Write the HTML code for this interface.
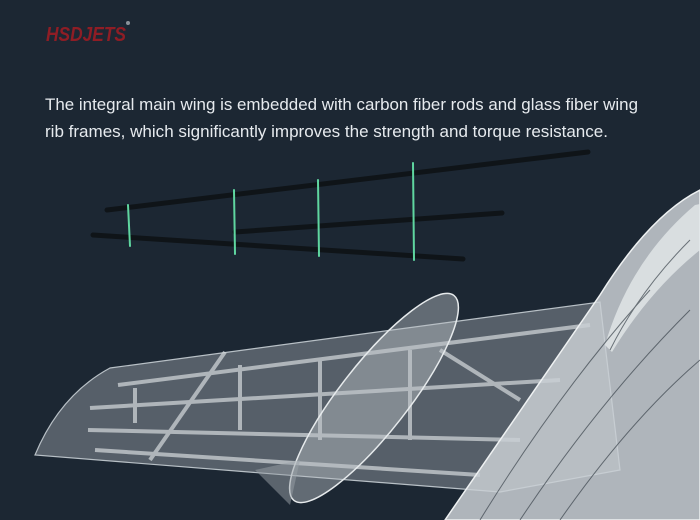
<!DOCTYPE html>
<html><head><meta charset="utf-8"><style>
html,body{margin:0;padding:0;background:#1c2733;}
svg{display:block}
</style></head><body>
<svg width="700" height="520" viewBox="0 0 700 520" xmlns="http://www.w3.org/2000/svg">
<rect width="700" height="520" fill="#1c2733"/>
<text x="46" y="41" font-family="Liberation Sans, sans-serif" font-size="20" font-weight="bold" font-style="italic" fill="#8f1d25" textLength="80" lengthAdjust="spacingAndGlyphs">HSDJETS</text>
<circle cx="128" cy="23" r="2" fill="#8a929a"/>
<text x="45" y="110" font-family="Liberation Sans, sans-serif" font-size="17" fill="#e6eaee" textLength="593" lengthAdjust="spacingAndGlyphs">The integral main wing is embedded with carbon fiber rods and glass fiber wing</text>
<text x="45" y="137" font-family="Liberation Sans, sans-serif" font-size="17" fill="#e6eaee" textLength="563" lengthAdjust="spacingAndGlyphs">rib frames, which significantly improves the strength and torque resistance.</text>
<g stroke-linecap="round">
<line x1="107" y1="210" x2="588" y2="152" stroke="#0f1418" stroke-width="5"/>
<line x1="93" y1="235" x2="463" y2="259" stroke="#0f1418" stroke-width="5"/>
<line x1="235" y1="232" x2="502" y2="213" stroke="#0f1418" stroke-width="5"/>
<g stroke="#5fd6a0" stroke-width="2">
<line x1="128" y1="205" x2="130" y2="246"/>
<line x1="234" y1="190" x2="235" y2="254"/>
<line x1="318" y1="180" x2="319" y2="256"/>
<line x1="413" y1="163" x2="414" y2="260"/>
</g></g>
<!-- wing -->
<path d="M35,455 Q60,395 110,368 L600,302 L620,470 L500,492 Z" fill="#6f7880" fill-opacity="0.7" stroke="#b8c0c6" stroke-width="1.2"/>
<g stroke="#d5dadd" stroke-width="4" opacity="0.7">
<line x1="118" y1="385" x2="590" y2="325"/>
<line x1="90" y1="408" x2="560" y2="380"/>
<line x1="88" y1="430" x2="520" y2="440"/>
<line x1="95" y1="450" x2="480" y2="475"/>
<line x1="135" y1="388" x2="135" y2="423"/>
<line x1="240" y1="365" x2="240" y2="430"/>
<line x1="320" y1="358" x2="320" y2="440"/>
<line x1="410" y1="350" x2="410" y2="440"/>
<line x1="225" y1="352" x2="150" y2="460"/>
<line x1="440" y1="350" x2="520" y2="400"/>
</g>
<!-- pod -->
<ellipse cx="374" cy="398" rx="34" ry="130" transform="rotate(38 374 398)" fill="#b7bec4" fill-opacity="0.45" stroke="#e6eaec" stroke-width="1.5"/>
<path d="M255,470 L300,460 L290,505 Z" fill="#9aa2a8" fill-opacity="0.5"/>
<!-- fuselage -->
<path d="M445,520 L600,295 Q650,215 700,190 L700,520 Z" fill="#c9cfd3" fill-opacity="0.85" stroke="#eef1f2" stroke-width="1.5"/>
<path d="M605,345 Q630,260 695,205 L700,204 L700,250 Q650,290 612,352 Z" fill="#e4e8ea" fill-opacity="0.8"/>
<g stroke="#3a434b" stroke-width="1" fill="none" opacity="0.7">
<path d="M480,520 Q560,390 650,290"/>
<path d="M520,520 Q600,400 690,310"/>
<path d="M560,520 Q630,420 700,360"/>
<path d="M610,350 Q640,290 690,240"/>
</g>
</svg>
</body></html>
